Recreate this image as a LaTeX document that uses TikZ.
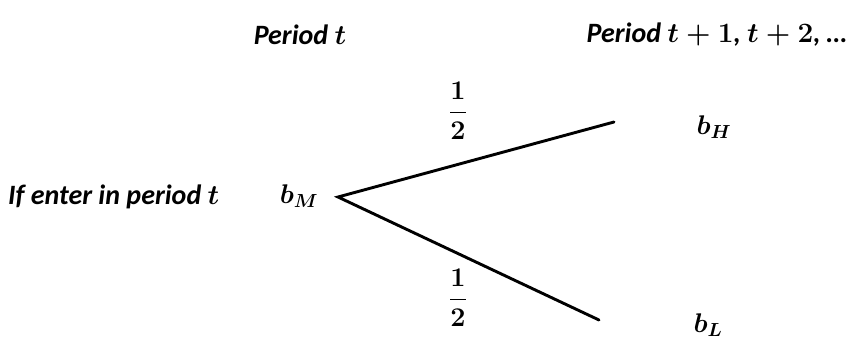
\documentclass[tikz,border=0pt]{standalone}
\usepackage{fix-cm}
\usepackage{amsmath}
\usepackage{fontspec}
\setmainfont{Carlito}
\tikzset{
  lbl/.style={inner sep=0pt, font=\fontsize{28}{32}\selectfont\bfseries\itshape\boldmath},
  mth/.style={inner sep=0pt, font=\fontsize{27}{31}\selectfont\boldmath},
  branch/.style={line width=2.9pt, line cap=round}
}
\begin{document}
\begin{tikzpicture}[x=1pt,y=-1pt]
\useasboundingbox (0,0) rectangle (848,343);
\node[lbl] (pt) at (300,35) {Period $t$};
\node[lbl, anchor=east] (pt1) at (847,35) {Period $t+1$, $t+2$, \ldots};
\node[lbl, anchor=west] (enter) at (8,197) {If enter in period $t$};
\node[mth] (bM) at (299,196) {$b_M$};
\node[mth] (bH) at (714,127) {$b_H$};
\node[mth] (bL) at (708,325) {$b_L$};
\node[mth] (fu) at (458,111) {$\dfrac{1}{2}$};
\node[mth] (fl) at (458,298) {$\dfrac{1}{2}$};
\coordinate (root) at (338,197);
\coordinate (up) at (614,122);
\coordinate (lo) at (599,320);
\draw[branch] (up) -- (root) -- (lo);
\end{tikzpicture}
\end{document}
